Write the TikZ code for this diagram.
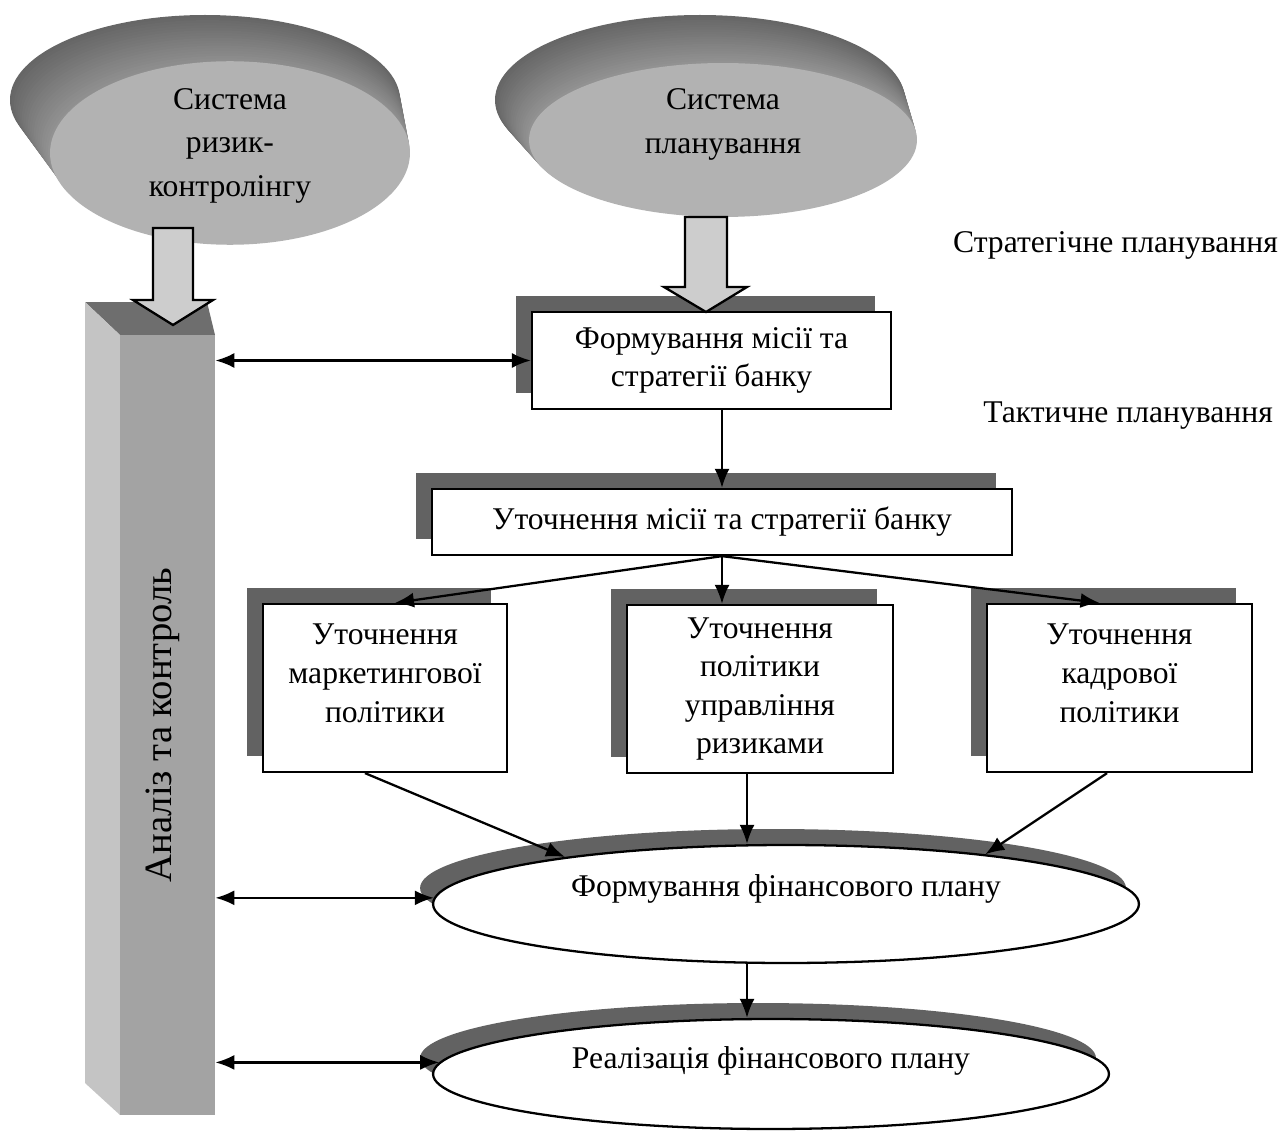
\documentclass[tikz,border=0pt]{standalone}
\usepackage{fontspec}
\setmainfont{Liberation Serif}
\usetikzlibrary{shapes,shadows,arrows.meta}
\definecolor{sh_dark}{RGB}{98,98,98}
\definecolor{disk_face}{RGB}{178,178,178}
\definecolor{blk_fill}{RGB}{205,205,205}
\tikzstyle{box}=[rectangle,draw=black,fill=white,line width=1.3pt,align=center,inner sep=2pt,
  drop shadow={shadow xshift=-0.32cm,shadow yshift=0.32cm,opacity=1,fill=sh_dark}]
\tikzstyle{finell}=[ellipse,draw=black,fill=white,line width=1.3pt,inner sep=0pt,
  drop shadow={shadow xshift=-0.26cm,shadow yshift=0.32cm,opacity=1,fill=sh_dark}]
\tikzstyle{disk}=[ellipse,fill=disk_face,inner sep=0pt,align=center,
  font=\fontsize{18}{25}\selectfont]
\tikzstyle{arr}=[-{Latex[length=0.38cm,width=0.3cm]},line width=1.3pt]
\tikzstyle{dbl}=[{Latex[length=0.38cm,width=0.3cm]}-{Latex[length=0.38cm,width=0.3cm]},line width=1.3pt]
\tikzstyle{blockarr}=[draw=black,fill=blk_fill,line width=1.3pt,line join=miter]

\begin{document}
\begin{tikzpicture}[x=0.02cm,y=-0.02cm,font=\fontsize{18}{22}\selectfont]
    \useasboundingbox (0,0) rectangle (1288,1135);
    % extruded disks
    \foreach \t in {0,0.05,...,1.0} {
      \pgfmathsetmacro\g{60-18*\t}
      \fill[black!\g] ({205+25*\t},{100+53*\t}) ellipse ({195-15*\t} and {85+2*\t});
      \fill[black!\g] ({700+23*\t},{100+40*\t}) ellipse ({205-11*\t} and {85-8*\t});
    }
    \node [style=disk,minimum width=7.2cm,minimum height=3.48cm,text depth=0.42cm] (riskctl) at (230,153) {Система\\ризик-\\контролінгу};
    \node [style=disk,minimum width=7.76cm,minimum height=3.08cm,text depth=0.75cm] (plansys) at (723,140) {Система\\планування};
    % pillar
    \fill[black!57] (85,302) -- (207,302) -- (215,335) -- (120,335) -- cycle;
    \fill[black!23] (85,302) -- (120,335) -- (120,1115) -- (85,1083) -- cycle;
    \node [fill=black!36,minimum width=1.9cm,minimum height=15.6cm,inner sep=0pt] (pillar) at (167.5,725) {};
    \node [rotate=90,font=\fontsize{22}{26}\selectfont] (pillartxt) at (163,725) {Аналіз та контроль};
    % side labels
    \node [anchor=east] (strat) at (1284,245) {Стратегічне планування};
    \node [anchor=east] (tact) at (1279,416) {Тактичне планування};
    % boxes
    \node [style=box,minimum width=7.18cm,minimum height=1.94cm] (mission) at (711.5,360.5) {Формування місії та\\стратегії банку};
    \node [style=box,minimum width=11.6cm,minimum height=1.32cm] (refine) at (722,522) {Уточнення місії та стратегії банку};
    \node [style=box,minimum width=4.88cm,minimum height=3.36cm,text depth=0.6cm] (market) at (385,688) {Уточнення\\маркетингової\\політики};
    \node [style=box,minimum width=5.32cm,minimum height=3.36cm] (riskpol) at (760,689) {Уточнення\\політики\\управління\\ризиками};
    \node [style=box,minimum width=5.3cm,minimum height=3.36cm,text depth=0.6cm] (staff) at (1119.5,688) {Уточнення\\кадрової\\політики};
    % finance ellipses
    \node [style=finell,minimum width=14.12cm,minimum height=2.36cm,text depth=0.72cm] (finplan) at (786,904) {Формування фінансового плану};
    \node [style=finell,minimum width=13.52cm,minimum height=2.2cm,text depth=0.66cm] (finreal) at (771,1074) {Реалізація фінансового плану};
    % block arrows
    \draw[style=blockarr] (153,228) -- (193,228) -- (193,300) -- (213,300) -- (173,325) -- (133,300) -- (153,300) -- cycle;
    \draw[style=blockarr] (685,217) -- (727,217) -- (727,287) -- (747,287) -- (706,312) -- (664,287) -- (685,287) -- cycle;
    % connectors
    \draw[style=arr] (refine.north |- mission.south) to (refine.north);
    \draw[style=arr] (refine.south) to ([xshift=0.2cm]market.north);
    \draw[style=arr] (refine.south) to (riskpol.north -| refine.south);
    \draw[style=arr] (refine.south) to ([xshift=-0.4cm]staff.north);
    \draw[style=arr] ([xshift=-0.4cm]market.south) to (finplan.168);
    \draw[style=arr] ([xshift=-0.26cm]riskpol.south) to ([xshift=-0.26cm]riskpol.south |- finplan.north);
    \draw[style=arr] ([xshift=-0.25cm]staff.south) to (finplan.14);
    \draw[style=arr] ([xshift=-0.26cm]riskpol.south |- finplan.south) to ([xshift=-0.26cm]riskpol.south |- finreal.north);
    \draw[style=dbl] (pillar.east |- mission.west) to (mission.west);
    \draw[style=dbl] (pillar.east |- finplan.179) to (finplan.179);
    \draw[style=dbl] (pillar.east |- finreal.178) to (finreal.178);
\end{tikzpicture}
\end{document}
